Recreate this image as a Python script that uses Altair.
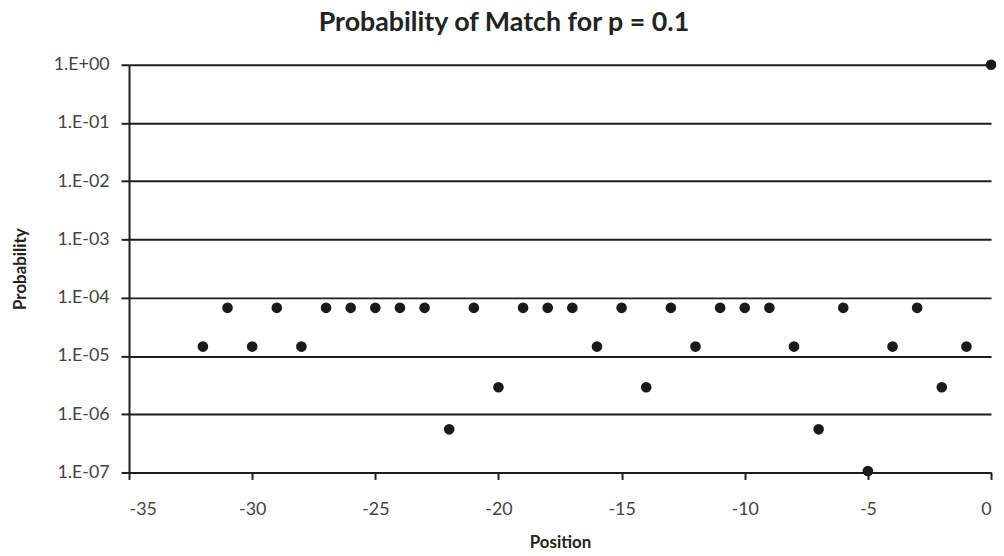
import altair as alt
import pandas as pd

positions = [-32, -31, -30, -29, -28, -27, -26, -25, -24, -23, -22, -21, -20, -19, -18, -17,
             -16, -15, -14, -13, -12, -11, -10, -9, -8, -7, -6, -5, -4, -3, -2, -1, 0]
probabilities = [1.45e-5, 6.7e-5, 1.45e-5, 6.7e-5, 1.45e-5, 6.7e-5, 6.7e-5, 6.7e-5, 6.7e-5, 6.7e-5,
                 5.5e-7, 6.7e-5, 2.9e-6, 6.7e-5, 6.7e-5, 6.7e-5, 1.45e-5, 6.7e-5, 2.9e-6, 6.7e-5,
                 1.45e-5, 6.7e-5, 6.7e-5, 6.7e-5, 1.45e-5, 5.5e-7, 6.7e-5, 1.06e-7, 1.45e-5, 6.7e-5,
                 2.9e-6, 1.45e-5, 1.0]
x_ticks = [-35, -30, -25, -20, -15, -10, -5, 0]
y_ticks = [1e-7, 1e-6, 1e-5, 1e-4, 1e-3, 1e-2, 1e-1, 1.0]

df = pd.DataFrame({"Position": positions, "Probability": probabilities})

exp = "round(log(datum.value)/LN10)"
label_expr = ("'1.E' + (" + exp + " < 0 ? '-' : '+') + (abs(" + exp + ") < 10 ? '0' : '') + abs(" + exp + ")")

FONT = "Lato"

chart = alt.Chart(df).mark_circle(size=115, color="#1a1a1a", opacity=1).encode(
    x=alt.X("Position:Q",
            scale=alt.Scale(domain=[-35, 0], nice=False, zero=False),
            axis=alt.Axis(values=x_ticks, grid=False, title="Position",
                          labelExpr="'' + datum.value",
                          domainColor="#1e1e1e", domainWidth=2,
                          tickColor="#1e1e1e", tickWidth=2, tickSize=7,
                          labelPadding=21, labelFontSize=18, labelColor="#444444", labelFont=FONT,
                          titleFont=FONT, titleFontSize=17, titleFontWeight="bold", titleColor="#222222",
                          titlePadding=17)),
    y=alt.Y("Probability:Q",
            scale=alt.Scale(type="log", domain=[1e-7, 1], nice=False),
            axis=alt.Axis(values=y_ticks, labelExpr=label_expr, title="Probability",
                          grid=True, gridColor="#1e1e1e", gridWidth=2, gridOpacity=1,
                          domainColor="#1e1e1e", domainWidth=2,
                          tickColor="#1e1e1e", tickWidth=2, tickSize=8,
                          labelPadding=12, labelFontSize=18, labelColor="#444444", labelFont=FONT,
                          titleFont=FONT, titleFontSize=17, titleFontWeight="bold", titleColor="#222222",
                          titlePadding=24)),
).properties(
    width=869,
    height=411,
    title=alt.TitleParams("Probability of Match for p = 0.1", font=FONT, fontSize=27,
                          fontWeight="bold", color="#222222", offset=19,
                          anchor="middle", frame="bounds"),
    autosize=alt.AutoSizeParams(type="none"),
    padding={"left": 122, "top": 55, "right": 5, "bottom": 82},
).configure_view(stroke=None)

chart.save("out.html", embed_options={"renderer": "svg", "actions": False})
